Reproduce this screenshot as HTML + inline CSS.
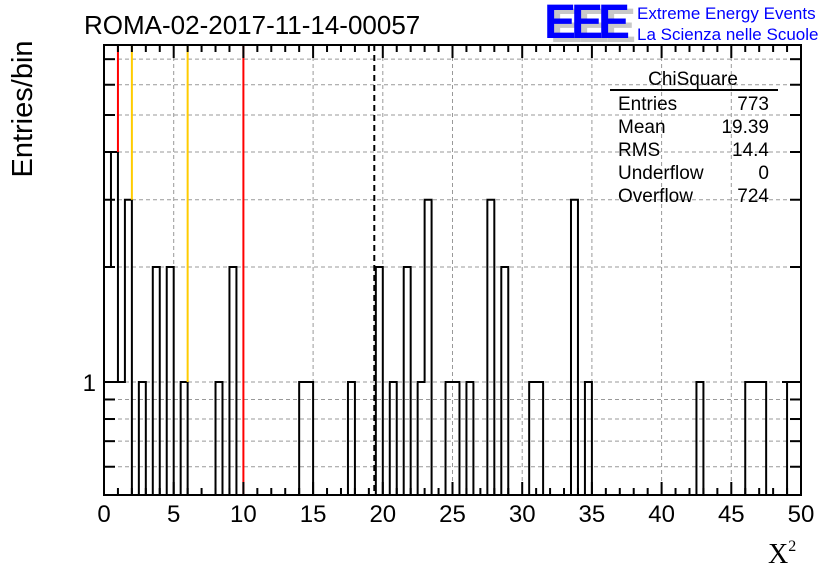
<!DOCTYPE html>
<html><head><meta charset="utf-8"><style>
body{margin:0;background:#fff}
svg{display:block;font-family:"Liberation Sans",sans-serif}
</style></head><body>
<svg id="c" width="836" height="572" viewBox="0 0 836 572">
<g id="grid"></g>
<g id="hist"></g>
<g id="marks"></g>
<g id="axes"></g>
<text x="84" y="34" font-size="26">ROMA-02-2017-11-14-00057</text>
<g>
<text x="550" y="42" font-size="48" font-weight="bold" fill="#c8c8c8" letter-spacing="-5">EEE</text>
<text x="544" y="38" font-size="48" font-weight="bold" fill="#0000ff" letter-spacing="-5">EEE</text>
<text x="637" y="19" font-size="17" fill="#0000ff">Extreme Energy Events</text>
<text x="637" y="40" font-size="17" fill="#0000ff">La Scienza nelle Scuole</text>
</g>
<g font-size="19">
<text x="693" y="85" text-anchor="middle">ChiSquare</text>
<line x1="610" y1="90" x2="778" y2="90" stroke="#000" stroke-width="2"/>
<text x="618" y="110">Entries</text><text x="769" y="110" text-anchor="end">773</text>
<text x="618" y="133">Mean</text><text x="769" y="133" text-anchor="end">19.39</text>
<text x="618" y="156">RMS</text><text x="769" y="156" text-anchor="end">14.4</text>
<text x="618" y="179">Underflow</text><text x="769" y="179" text-anchor="end">0</text>
<text x="618" y="202">Overflow</text><text x="769" y="202" text-anchor="end">724</text>
</g>
<text x="22" y="109" font-size="29" text-anchor="middle" transform="rotate(-90 22 109)" dy="10">Entries/bin</text>
<text x="768" y="563" font-size="28" font-family="Liberation Serif,serif">X<tspan font-size="16" dy="-12">2</tspan></text>
</svg>
<script>
const counts=[2,4,1,3,0,1,0,2,0,2,0,1,0,0,0,0,1,0,2,0,0,0,0,0,0,0,0,0,1,1,0,0,0,0,0,1,0,0,0,2,0,1,0,2,0,1,3,0,0,1,1,0,1,0,0,3,0,2,0,0,0,1,1,0,0,0,0,3,0,1,0,0,0,0,0,0,0,0,0,0,0,0,0,0,0,1,0,0,0,0,0,0,1,1,1,0,0,0,1,1];
const xTicks=[0,5,10,15,20,25,30,35,40,45,50];
const yTicks=[0.6,0.7,0.8,0.9,1,2,3,4,5,6,7];
const redLines=[1,10];
const yellowLines=[2,6];
const meanLine=[19.39];
const X0=104,X1=801,Y0=495,Y1=45,xmin=0,xmax=50,binW=0.5;
const ymin=Math.pow(10,-113/382),ymax=Math.pow(10,337/382);
const sx=v=>X0+(v-xmin)/(xmax-xmin)*(X1-X0);
const sy=v=>v<=0?Y0:Math.max(Y1,Math.min(Y0,Y0-(Math.log10(v)-Math.log10(ymin))/(Math.log10(ymax)-Math.log10(ymin))*(Y0-Y1)));
const NS="http://www.w3.org/2000/svg";
function mk(t,a,p){const e=document.createElementNS(NS,t);for(const k in a)e.setAttribute(k,a[k]);p.appendChild(e);return e;}
const grid=document.getElementById('grid'),hist=document.getElementById('hist'),marks=document.getElementById('marks'),axes=document.getElementById('axes');
xTicks.forEach(v=>{if(v>xmin&&v<xmax){const l=mk('line',{x1:sx(v),x2:sx(v),y1:Y0,y2:Y1,stroke:'#999','stroke-dasharray':'4,3','stroke-width':1},grid);

}});
yTicks.forEach(v=>{const l=mk('line',{x1:X0,x2:X1,y1:sy(v),y2:sy(v),stroke:'#999','stroke-dasharray':'4,3','stroke-width':1},grid);

});
let d='M'+X0+','+Y0;
counts.forEach((c,i)=>{const xa=sx(i*binW),xb=sx((i+1)*binW),y=sy(c);d+=' L'+xa+','+y+' L'+xb+','+y;});
d+=' L'+X1+','+Y0;
const hp=mk('path',{d:d,fill:'none',stroke:'#000','stroke-width':2},hist);


function valAt(x){const i=Math.floor(x/binW-1e-9);return counts[Math.max(0,i)]||0;}
function vline(x,col,nm){const l=mk('line',{x1:sx(x),x2:sx(x),y1:Y1,y2:sy(valAt(x)),stroke:col,'stroke-width':2},marks);

}
redLines.forEach(x=>vline(x,'#ff0000','red-threshold-line'));
yellowLines.forEach(x=>vline(x,'#ffcc00','yellow-threshold-line'));
meanLine.forEach(x=>{const l=mk('line',{x1:sx(x),x2:sx(x),y1:Y1,y2:Y0,stroke:'#000','stroke-width':2,'stroke-dasharray':'6,4'},marks);

});
const fr=mk('rect',{x:X0,y:Y1,width:X1-X0,height:Y0-Y1,fill:'none',stroke:'#000','stroke-width':2},axes);


for(let v=xmin;v<=xmax;v++){const L=(v%5===0)?13:7;
mk('line',{x1:sx(v),x2:sx(v),y1:Y0,y2:Y0-L,stroke:'#000','stroke-width':2},axes);
mk('line',{x1:sx(v),x2:sx(v),y1:Y1,y2:Y1+L,stroke:'#000','stroke-width':2},axes);}
xTicks.forEach(v=>{const t=mk('text',{x:sx(v),y:522,'font-size':24,'text-anchor':'middle'},axes);t.textContent=v;

});
yTicks.forEach(v=>{const L=(v===1)?19:11;
mk('line',{x1:X0,x2:X0+L,y1:sy(v),y2:sy(v),stroke:'#000','stroke-width':2},axes);
mk('line',{x1:X1,x2:X1-L,y1:sy(v),y2:sy(v),stroke:'#000','stroke-width':2},axes);});
const yl=mk('text',{x:96,y:sy(1)+9,'font-size':24,'text-anchor':'end'},axes);yl.textContent='1';


</script>
</body></html>
